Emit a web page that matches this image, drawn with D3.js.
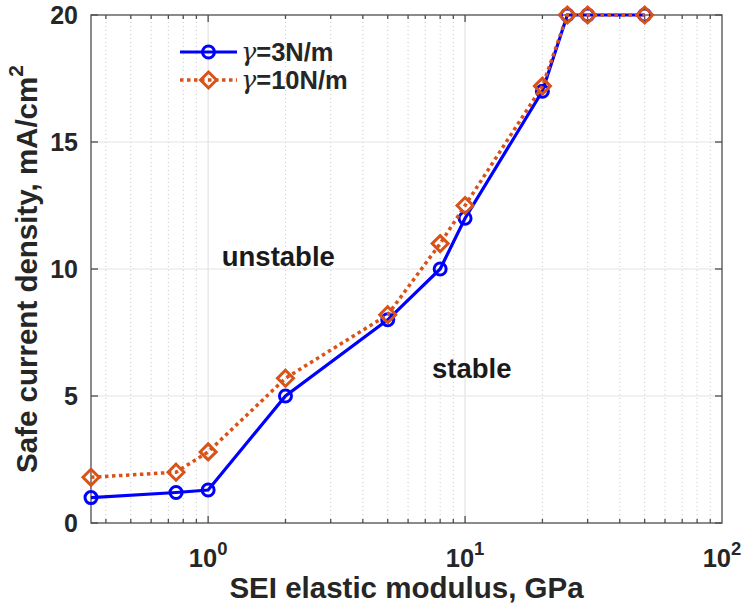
<!DOCTYPE html>
<html>
<head>
<meta charset="utf-8">
<script src="https://cdn.jsdelivr.net/npm/d3@7"></script>
<style>
  body { margin: 0; background: #fff; }
  svg { display: block; font-family: "Liberation Sans", Arial, sans-serif; font-weight: bold; }
</style>
</head>
<body>
<div id="chart"></div>
<script>
// data
var modulus = [0.35, 0.75, 1, 2, 5, 8, 10, 20, 25, 30, 50];
var current3 = [1, 1.2, 1.3, 5, 8, 10, 12, 17, 20, 20, 20];
var current10 = [1.8, 2, 2.8, 5.7, 8.2, 11, 12.5, 17.2, 20, 20, 20];
var yTicks = [0, 5, 10, 15, 20];
var xDecades = [1, 10, 100];
var seriesNames = ["=3N/m", "=10N/m"];

var width = 743, height = 606;
var margin = { top: 15, right: 21, bottom: 83, left: 91 };

var svg = d3.select("#chart").append("svg")
    .attr("width", width)
    .attr("height", height);

var x = d3.scaleLog()
    .domain([0.35, 100])
    .range([margin.left, width - margin.right]);
var y = d3.scaleLinear()
    .domain([0, 20])
    .range([height - margin.bottom, margin.top]);

var x0 = x.range()[0], x1 = x.range()[1];
var y0 = y.range()[0], y1 = y.range()[1];

// minor ticks 2..9 of each decade inside the domain
var minorX = [];
[0.1, 1, 10].forEach(function(d) {
  for (var k = 2; k <= 9; k++) {
    var v = d * k;
    if (v > 0.35 && v < 100) minorX.push(v);
  }
});

var grid = svg.append("g");
grid.selectAll(".minor")
  .data(minorX)
  .enter().append("line")
  .attr("x1", function(d) { return x(d); })
  .attr("x2", function(d) { return x(d); })
  .attr("y1", y0).attr("y2", y1)
  .attr("stroke", "#c8c8c8")
  .attr("stroke-width", 1)
  .attr("stroke-dasharray", "1,3");
grid.selectAll(".majorx")
  .data([1, 10])
  .enter().append("line")
  .attr("x1", function(d) { return x(d); })
  .attr("x2", function(d) { return x(d); })
  .attr("y1", y0).attr("y2", y1)
  .attr("stroke", "#e3e3e3")
  .attr("stroke-width", 1.2);
grid.selectAll(".majory")
  .data([5, 10, 15])
  .enter().append("line")
  .attr("x1", x0).attr("x2", x1)
  .attr("y1", function(d) { return y(d); })
  .attr("y2", function(d) { return y(d); })
  .attr("stroke", "#e3e3e3")
  .attr("stroke-width", 1.2);

// box and inside ticks
var axisCol = "#4d4d4d";
var frame = svg.append("g");
frame.append("rect")
  .attr("x", x0).attr("y", y1)
  .attr("width", x1 - x0).attr("height", y0 - y1)
  .attr("fill", "none")
  .attr("stroke", axisCol)
  .attr("stroke-width", 1.3);

function xTickMarks(vals, len) {
  vals.forEach(function(v) {
    frame.append("line")
      .attr("x1", x(v)).attr("x2", x(v))
      .attr("y1", y0).attr("y2", y0 - len)
      .attr("stroke", axisCol).attr("stroke-width", 1.3);
    frame.append("line")
      .attr("x1", x(v)).attr("x2", x(v))
      .attr("y1", y1).attr("y2", y1 + len)
      .attr("stroke", axisCol).attr("stroke-width", 1.3);
  });
}
xTickMarks(minorX, 4);
xTickMarks([1, 10], 7);

yTicks.forEach(function(v) {
  frame.append("line")
    .attr("x1", x0).attr("x2", x0 + 7)
    .attr("y1", y(v)).attr("y2", y(v))
    .attr("stroke", axisCol).attr("stroke-width", 1.3);
  frame.append("line")
    .attr("x1", x1).attr("x2", x1 - 7)
    .attr("y1", y(v)).attr("y2", y(v))
    .attr("stroke", axisCol).attr("stroke-width", 1.3);
});

// tick labels
var textCol = "#262626";
svg.selectAll(".ylab")
  .data(yTicks)
  .enter().append("text")
  .attr("x", x0 - 13)
  .attr("y", function(d) { return y(d); })
  .attr("dy", "0.36em")
  .attr("text-anchor", "end")
  .attr("font-size", 25)
  .attr("fill", textCol)
  .text(function(d) { return d; });

var xl = svg.selectAll(".xlab")
  .data(xDecades)
  .enter().append("text")
  .attr("x", function(d) { return x(d); })
  .attr("y", y0 + 44)
  .attr("text-anchor", "middle")
  .attr("font-size", 25.5)
  .attr("fill", textCol);
xl.append("tspan").text("10");
xl.append("tspan")
  .attr("dy", -12)
  .attr("font-size", 18.5)
  .text(function(d) { return Math.round(Math.log10(d)); });

// axis titles
svg.append("text")
  .attr("x", (x0 + x1) / 2)
  .attr("y", 598)
  .attr("text-anchor", "middle")
  .attr("font-size", 29.5)
  .attr("fill", textCol)
  .text("SEI elastic modulus, GPa");

var yt = svg.append("text")
  .attr("transform", "translate(37," + (y0 + y1) / 2 + ") rotate(-90)")
  .attr("text-anchor", "middle")
  .attr("font-size", 29.5)
  .attr("fill", textCol);
yt.append("tspan").text("Safe current density, mA/cm");
yt.append("tspan").attr("dy", -14).attr("font-size", 21).text("2");

// annotations
svg.append("text")
  .attr("x", x(1.13)).attr("y", y(10.1))
  .attr("font-size", 27.5).attr("fill", "#1a1a1a")
  .text("unstable");
svg.append("text")
  .attr("x", x(7.44)).attr("y", y(5.7))
  .attr("font-size", 27.5).attr("fill", "#1a1a1a")
  .text("stable");

// series
var blue = "#0000ff", orange = "#d95319";
var line = d3.line()
  .x(function(d) { return x(d[0]); })
  .y(function(d) { return y(d[1]); });

var s3 = d3.zip(modulus, current3);
var s10 = d3.zip(modulus, current10);

svg.append("path")
  .datum(s3)
  .attr("d", line)
  .attr("fill", "none")
  .attr("stroke", blue)
  .attr("stroke-width", 3.2);
svg.selectAll(".c3")
  .data(s3)
  .enter().append("circle")
  .attr("cx", function(d) { return x(d[0]); })
  .attr("cy", function(d) { return y(d[1]); })
  .attr("r", 6)
  .attr("fill", "none")
  .attr("stroke", blue)
  .attr("stroke-width", 3);

var diamond = function(cx, cy, r) {
  return "M" + cx + "," + (cy - r) + "L" + (cx + r) + "," + cy +
         "L" + cx + "," + (cy + r) + "L" + (cx - r) + "," + cy + "Z";
};

svg.append("path")
  .datum(s10)
  .attr("d", line)
  .attr("fill", "none")
  .attr("stroke", orange)
  .attr("stroke-width", 3.5)
  .attr("stroke-dasharray", "3.5,3.5");
svg.selectAll(".d10")
  .data(s10)
  .enter().append("path")
  .attr("d", function(d) { return diamond(x(d[0]), y(d[1]), 8); })
  .attr("fill", "none")
  .attr("stroke", orange)
  .attr("stroke-width", 3);

// legend
var legend = svg.append("g");
var ly = [52, 80];
legend.append("line")
  .attr("x1", 180).attr("x2", 237)
  .attr("y1", ly[0]).attr("y2", ly[0])
  .attr("stroke", blue).attr("stroke-width", 3.2);
legend.append("circle")
  .attr("cx", 208.5).attr("cy", ly[0]).attr("r", 6)
  .attr("fill", "none").attr("stroke", blue).attr("stroke-width", 3);
legend.append("line")
  .attr("x1", 180).attr("x2", 237)
  .attr("y1", ly[1]).attr("y2", ly[1])
  .attr("stroke", orange).attr("stroke-width", 3.5)
  .attr("stroke-dasharray", "3.5,3.5");
legend.append("path")
  .attr("d", diamond(208.5, ly[1], 8))
  .attr("fill", "none").attr("stroke", orange).attr("stroke-width", 3);

seriesNames.forEach(function(name, i) {
  var t = legend.append("text")
    .attr("x", 241).attr("y", ly[i] + 9)
    .attr("font-size", 25.5).attr("fill", textCol);
  t.append("tspan")
    .attr("font-family", "'DejaVu Serif', serif")
    .attr("font-style", "italic")
    .attr("font-weight", "normal")
    .text("\u03b3");
  t.append("tspan").text(name);
});
</script>
</body>
</html>
